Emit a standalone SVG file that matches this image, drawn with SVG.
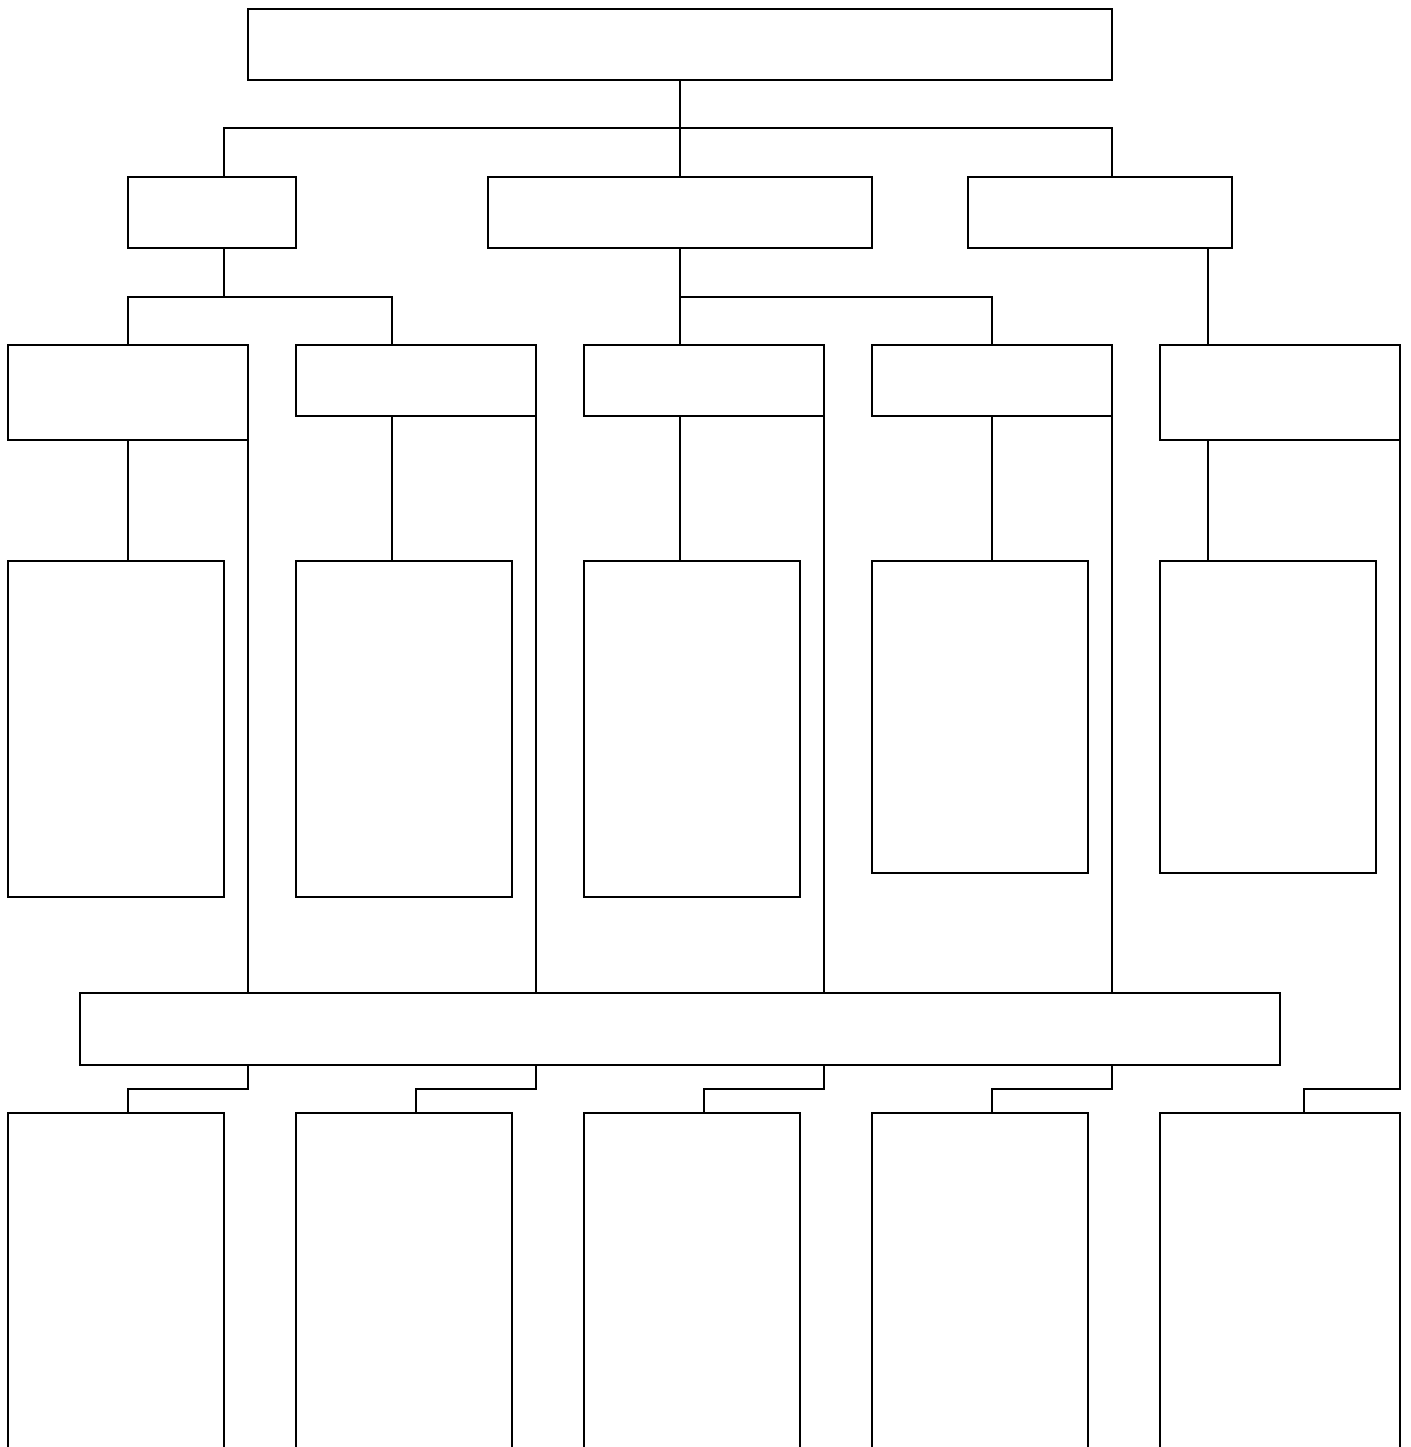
<svg xmlns="http://www.w3.org/2000/svg" width="1411" height="1447" viewBox="0 0 1411 1447">
<style>
.n rect{fill:#fff;stroke:#000;stroke-width:2}
#connectors path{fill:none;stroke:#000;stroke-width:2}
</style>
<rect width="1411" height="1447" fill="#fff"/>
<g id="connectors">
<path d="M680 80V128M224 177V128H1112V177M680 128V177"/>
<path d="M224 248V297M128 345V297H392V345"/>
<path d="M680 248V345M680 297H992V345"/>
<path d="M1208 248V345"/>
<path d="M128 440V561M392 416V561M680 416V561M992 416V561M1208 440V561"/>
<path d="M248 440V993M536 416V993M824 416V993M1112 416V993"/>
<path d="M1400 440V1089H1304V1113"/>
<path d="M248 1065V1089H128V1113M536 1065V1089H416V1113M824 1065V1089H704V1113M1112 1065V1089H992V1113"/>
</g>
<g id="root" class="n"><rect x="248" y="9" width="864" height="71"/></g>
<g id="l2a" class="n"><rect x="128" y="177" width="168" height="71"/></g>
<g id="l2b" class="n"><rect x="488" y="177" width="384" height="71"/></g>
<g id="l2c" class="n"><rect x="968" y="177" width="264" height="71"/></g>
<g id="l3a" class="n"><rect x="8" y="345" width="240" height="95"/></g>
<g id="l3b" class="n"><rect x="296" y="345" width="240" height="71"/></g>
<g id="l3c" class="n"><rect x="584" y="345" width="240" height="71"/></g>
<g id="l3d" class="n"><rect x="872" y="345" width="240" height="71"/></g>
<g id="l3e" class="n"><rect x="1160" y="345" width="240" height="95"/></g>
<g id="l4a" class="n"><rect x="8" y="561" width="216" height="336"/></g>
<g id="l4b" class="n"><rect x="296" y="561" width="216" height="336"/></g>
<g id="l4c" class="n"><rect x="584" y="561" width="216" height="336"/></g>
<g id="l4d" class="n"><rect x="872" y="561" width="216" height="312"/></g>
<g id="l4e" class="n"><rect x="1160" y="561" width="216" height="312"/></g>
<g id="bar" class="n"><rect x="80" y="993" width="1200" height="72"/></g>
<g id="b1" class="n"><rect x="8" y="1113" width="216" height="360"/></g>
<g id="b2" class="n"><rect x="296" y="1113" width="216" height="360"/></g>
<g id="b3" class="n"><rect x="584" y="1113" width="216" height="360"/></g>
<g id="b4" class="n"><rect x="872" y="1113" width="216" height="360"/></g>
<g id="b5" class="n"><rect x="1160" y="1113" width="240" height="360"/></g>
</svg>
